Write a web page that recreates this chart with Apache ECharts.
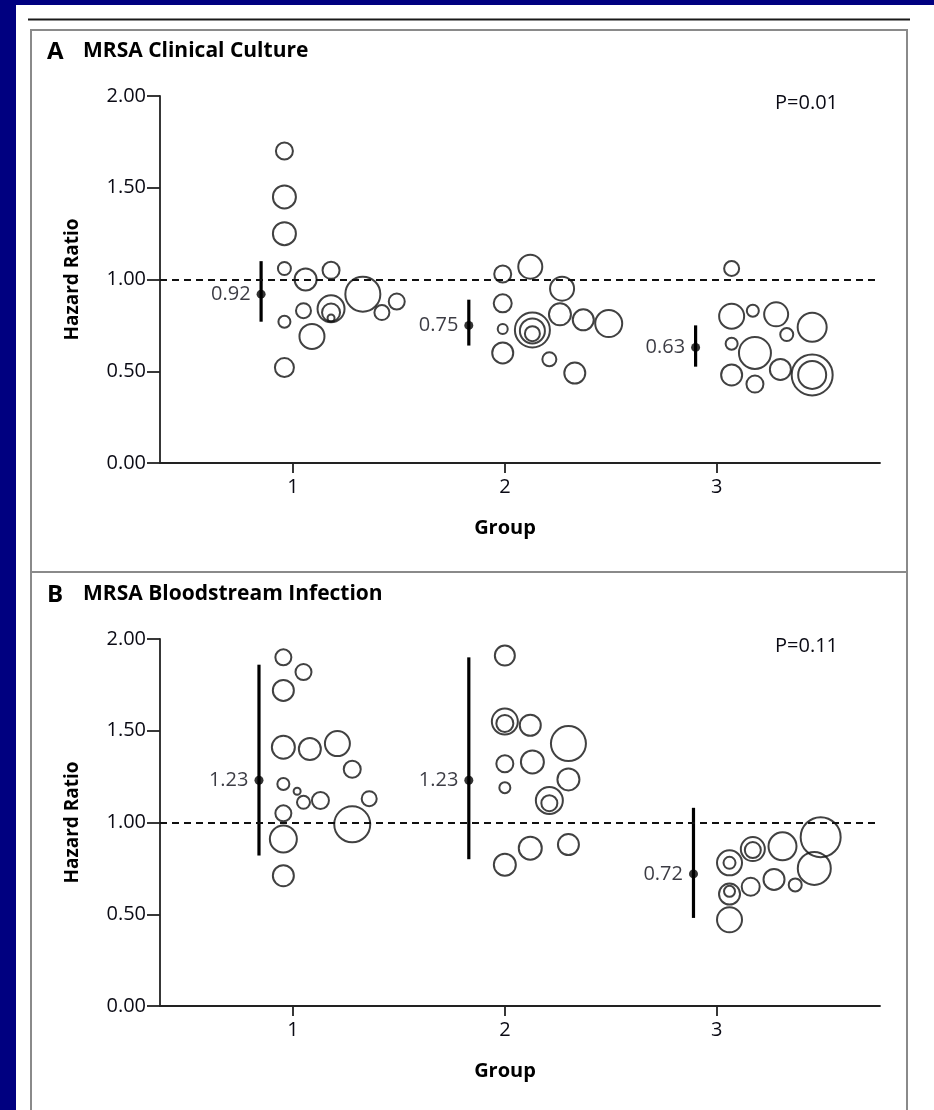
<!DOCTYPE html>
<html>
<head>
<meta charset="utf-8">
<script src="https://cdn.jsdelivr.net/npm/echarts@6/dist/echarts.min.js"></script>
<style>
html,body{margin:0;padding:0;background:#000080;}
#chart{width:934px;height:1110px;}
</style>
</head>
<body>
<div id="chart"></div>
<script>
// ---- Data ----
const groupTicks = [1, 2, 3];
const yTicks = [0, 0.5, 1, 1.5, 2];

// Panel A: MRSA Clinical Culture
const estXA = [0.85, 1.83, 2.90];
const estA = [0.92, 0.75, 0.63];
const ciLowA = [0.77, 0.64, 0.525];
const ciHighA = [1.10, 0.89, 0.75];
// bubbles: [x position, hazard ratio, weight]
const bubblesA1 = [[0.96,1.70,17],[0.96,1.45,23],[0.96,1.25,23],[0.96,1.06,13],[1.06,1.00,22],[1.18,1.05,17],[0.96,0.77,12],[1.05,0.83,15],[1.09,0.69,25],[0.96,0.52,19],[1.18,0.84,27],[1.18,0.82,18],[1.18,0.79,7],[1.33,0.92,35],[1.42,0.82,15],[1.49,0.88,16]];
const bubblesA2 = [[1.99,1.03,17],[2.12,1.07,24],[2.27,0.95,24],[1.99,0.87,18],[1.99,0.73,10],[2.13,0.725,35],[2.13,0.72,25],[2.13,0.705,15],[2.26,0.81,22],[2.37,0.78,21],[2.49,0.76,27],[1.99,0.60,21],[2.21,0.565,14],[2.33,0.49,21]];
const bubblesA3 = [[3.07,1.06,15],[3.07,0.80,25],[3.17,0.83,12],[3.28,0.81,24],[3.33,0.70,13],[3.45,0.74,29],[3.07,0.65,12],[3.18,0.60,32],[3.07,0.48,21],[3.18,0.43,17],[3.30,0.51,21],[3.45,0.48,41],[3.45,0.48,28]];
const pA = 'P=0.01';

// Panel B: MRSA Bloodstream Infection
const estXB = [0.84, 1.83, 2.89];
const estB = [1.23, 1.23, 0.72];
const ciLowB = [0.82, 0.80, 0.48];
const ciHighB = [1.86, 1.90, 1.08];
const bubblesB1 = [[0.955,1.90,16],[1.05,1.82,16],[0.955,1.72,21],[0.955,1.41,23],[1.08,1.40,22],[1.21,1.43,25],[1.28,1.29,17],[0.955,1.21,12],[1.02,1.17,7],[1.05,1.11,13],[1.13,1.12,17],[1.36,1.13,15],[0.955,1.05,16],[1.28,0.99,36],[0.955,0.91,27],[0.955,0.71,21]];
const bubblesB2 = [[2.00,1.91,20],[2.00,1.55,26],[2.00,1.54,17],[2.12,1.53,21],[2.30,1.43,35],[2.00,1.32,17],[2.13,1.33,23],[2.00,1.19,11],[2.30,1.235,22],[2.21,1.12,27],[2.21,1.105,16],[2.12,0.86,23],[2.30,0.88,21],[2.00,0.77,22]];
const bubblesB3 = [[3.06,0.78,25],[3.06,0.78,12],[3.17,0.855,24],[3.17,0.85,16],[3.31,0.87,28],[3.49,0.92,40],[3.46,0.75,33],[3.27,0.69,21],[3.16,0.65,18],[3.37,0.66,13],[3.06,0.61,21],[3.06,0.625,11],[3.06,0.47,25]];
const pB = 'P=0.11';

const titlesLetter = ['A', 'B'];
const titlesText = ['MRSA Clinical Culture', 'MRSA Bloodstream Infection'];

// ---- Chart ----
const FONT = '"Open Sans", "Liberation Sans", sans-serif';
const TXT = '#0a0a14';
const chart = echarts.init(document.getElementById('chart'), null, {renderer: 'canvas'});

const grids = [
  {left: 160, top: 96, width: 720, height: 367},
  {left: 160, top: 639, width: 720, height: 367}
];
const panelShift = 543;

function xAxisFor(i) {
  return {
    gridIndex: i, type: 'value', min: 0.373, max: 3.77,
    axisLine: {show: true, onZero: false, lineStyle: {color: '#222', width: 1.8}},
    axisTick: {show: true, customValues: groupTicks, length: 10, lineStyle: {color: '#222', width: 1.8}},
    axisLabel: {show: true, customValues: groupTicks, margin: 14, fontFamily: FONT, fontSize: 20, color: TXT},
    splitLine: {show: false},
    name: 'Group', nameLocation: 'middle', nameGap: 55,
    nameTextStyle: {fontFamily: FONT, fontSize: 20, fontWeight: 'bold', color: '#000', padding: [0, 30, 0, 0]}
  };
}
function yAxisFor(i) {
  return {
    gridIndex: i, type: 'value', min: 0, max: 2, interval: 0.5,
    axisLine: {show: true, lineStyle: {color: '#222', width: 1.8}},
    axisTick: {show: true, length: 13, lineStyle: {color: '#222', width: 1.8}},
    axisLabel: {margin: 14, fontFamily: FONT, fontSize: 20, color: TXT, formatter: v => v.toFixed(2)},
    splitLine: {show: false},
    name: 'Hazard Ratio', nameLocation: 'middle', nameGap: 78,
    nameTextStyle: {fontFamily: FONT, fontSize: 19, fontWeight: 'bold', color: '#000'}
  };
}

function bubbleSeries(data, gi) {
  return {
    type: 'scatter', xAxisIndex: gi, yAxisIndex: gi, data: data,
    symbol: 'circle', symbolSize: d => d[2],
    itemStyle: {color: 'rgba(0,0,0,0)', borderColor: '#111', borderWidth: 2},
    silent: true, z: 3
  };
}
function ciSeries(xs, lo, hi, gi) {
  return {
    type: 'custom', xAxisIndex: gi, yAxisIndex: gi,
    data: xs.map((x, k) => [x, lo[k], hi[k]]),
    renderItem: (params, api) => {
      const a = api.coord([api.value(0), api.value(1)]);
      const b = api.coord([api.value(0), api.value(2)]);
      return {type: 'line', shape: {x1: a[0], y1: a[1], x2: b[0], y2: b[1]}, style: {stroke: '#000', lineWidth: 3.2}};
    },
    silent: true, z: 4
  };
}
function estSeries(xs, est, gi) {
  return {
    type: 'scatter', xAxisIndex: gi, yAxisIndex: gi,
    data: xs.map((x, k) => [x, est[k]]),
    symbol: 'circle', symbolSize: 9,
    itemStyle: {color: '#000'},
    label: {show: true, position: 'left', distance: 6, formatter: p => p.value[1].toFixed(2),
      fontFamily: FONT, fontSize: 20, color: TXT},
    silent: true, z: 5
  };
}
function refLine(gi) {
  return {
    type: 'line', xAxisIndex: gi, yAxisIndex: gi, data: [],
    markLine: {silent: true, symbol: ['none', 'none'], label: {show: false},
      lineStyle: {color: '#111', width: 1.8, type: [7, 5]},
      data: [{yAxis: 1}]},
    z: 2
  };
}

const graphic = [
  {type: 'rect', shape: {x: 16, y: 5, width: 918, height: 1105}, style: {fill: '#fff'}, z: -10, silent: true},
  {type: 'line', shape: {x1: 28, y1: 19.5, x2: 910, y2: 19.5}, style: {stroke: '#1a1a1a', lineWidth: 2}, silent: true},
  {type: 'rect', shape: {x: 31, y: 30, width: 876, height: 542}, style: {fill: 'none', stroke: '#8a8a8a', lineWidth: 2}, silent: true},
  {type: 'rect', shape: {x: 31, y: 572, width: 876, height: 560}, style: {fill: 'none', stroke: '#8a8a8a', lineWidth: 2}, silent: true}
];
[pA, pB].forEach((p, i) => {
  graphic.push({type: 'text', left: 775, top: 93 + i * panelShift, style: {text: p, font: '20px ' + FONT, fill: TXT}, silent: true});
});

const titles = [];
titlesLetter.forEach((l, i) => {
  titles.push({text: l, left: 47, top: 40 + i * panelShift, padding: 0,
    textStyle: {fontFamily: FONT, fontSize: 24, fontWeight: 'bold', color: '#000'}});
  titles.push({text: titlesText[i], left: 83, top: 41 + i * panelShift, padding: 0,
    textStyle: {fontFamily: FONT, fontSize: 21, fontWeight: 'bold', color: '#000'}});
});

const option = {
  animation: false,
  backgroundColor: '#000080',
  title: titles,
  graphic: graphic,
  grid: grids,
  xAxis: [xAxisFor(0), xAxisFor(1)],
  yAxis: [yAxisFor(0), yAxisFor(1)],
  series: [
    refLine(0), refLine(1),
    bubbleSeries(bubblesA1, 0), bubbleSeries(bubblesA2, 0), bubbleSeries(bubblesA3, 0),
    bubbleSeries(bubblesB1, 1), bubbleSeries(bubblesB2, 1), bubbleSeries(bubblesB3, 1),
    ciSeries(estXA, ciLowA, ciHighA, 0), ciSeries(estXB, ciLowB, ciHighB, 1),
    estSeries(estXA, estA, 0), estSeries(estXB, estB, 1)
  ]
};
chart.setOption(option);
</script>
</body>
</html>
